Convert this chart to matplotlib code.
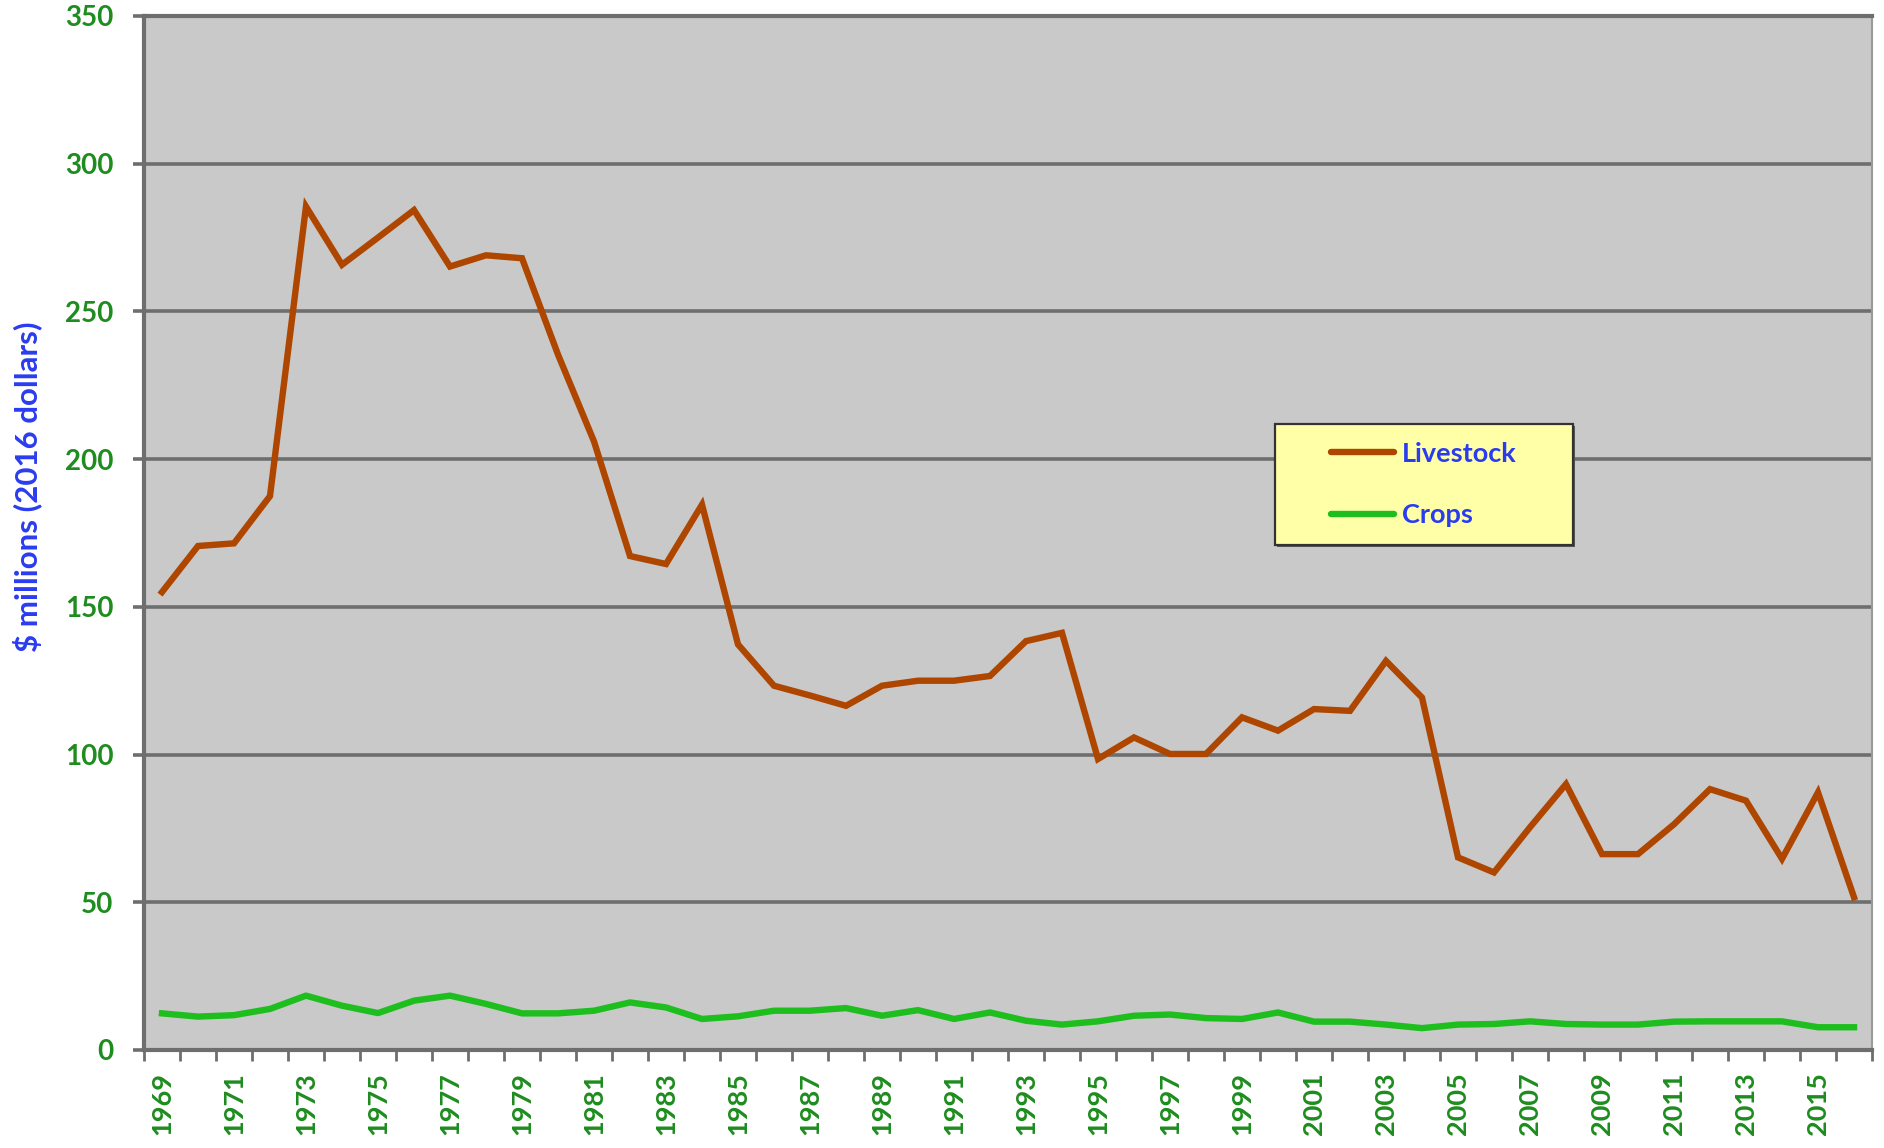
import matplotlib
matplotlib.use("Agg")
import matplotlib.pyplot as plt
from matplotlib.patches import Rectangle
import numpy as np

years = list(range(1969, 2017))
livestock = [155, 170.6, 171.5, 187.5, 285.5, 265.8, 275, 284.3, 265.2, 269, 268,
             235.4, 206, 167.2, 164.5, 184.6, 137.3, 123.3, 120, 116.5, 123.3, 125,
             125, 126.6, 138.4, 141.2, 98.5, 105.8, 100.2, 100.2, 112.6, 108.1, 115.4,
             114.8, 131.7, 119.3, 65.2, 60.1, 75.4, 90, 66.3, 66.3, 76.4, 88.3, 84.4,
             64.7, 87.2, 51.7]
crops = [12.4, 11.3, 11.8, 13.9, 18.4, 15, 12.5, 16.7, 18.4, 15.6, 12.4, 12.4, 13.3,
         16.1, 14.4, 10.5, 11.4, 13.3, 13.3, 14.2, 11.6, 13.5, 10.5, 12.7, 9.9, 8.6,
         9.7, 11.6, 12, 10.8, 10.5, 12.7, 9.6, 9.6, 8.6, 7.4, 8.6, 8.8, 9.7, 8.8, 8.6,
         8.6, 9.6, 9.7, 9.7, 9.7, 7.7, 7.7]
series_names = ["Livestock", "Crops"]
y_ticks = [0, 50, 100, 150, 200, 250, 300, 350]
y_label = "$ millions (2016 dollars)"

FONT = ["Lato", "DejaVu Sans"]
plt.rcParams['font.family'] = FONT
GREEN_TXT = "#1E8C1E"
BLUE_TXT = "#2A3CF0"
GRID = "#6E6E6E"

fig = plt.figure(figsize=(18.84, 11.48), dpi=100)
ax = fig.add_axes([144/1884, 1 - 1050/1148, (1872-144)/1884, (1050-16)/1148])
ax.set_facecolor("#C9C9C9")

x = np.arange(len(years))
l1, = ax.plot(x, livestock, color="#AE4600", lw=4.6, solid_joinstyle="miter", zorder=3)
l2, = ax.plot(x, crops, color="#1EBE1E", lw=4.6, solid_joinstyle="round", zorder=3)

ax.set_xlim(-0.5, len(years) - 0.5)
ax.set_ylim(0, 350)
ax.set_yticks(y_ticks)
ax.set_yticklabels([str(v) for v in y_ticks])
ax.yaxis.grid(True, color=GRID, lw=2.6, zorder=1)
ax.set_axisbelow(True)

# x: major ticks at category boundaries, labels on minor ticks
ax.set_xticks(np.arange(-0.5, len(years), 1.0))
ax.set_xticklabels([])
lab_pos = x[::2]
ax.set_xticks(lab_pos, minor=True)
ax.set_xticklabels([str(years[i]) for i in lab_pos], minor=True, rotation=90)
ax.tick_params(axis="x", which="major", direction="out", length=8, width=2, color=GRID)
ax.tick_params(axis="x", which="minor", length=0, pad=16, labelsize=19.5, labelcolor=GREEN_TXT)
ax.tick_params(axis="y", direction="out", length=8, width=2.6, color=GRID, pad=14,
               labelsize=20, labelcolor=GREEN_TXT)
for lab in ax.get_xticklabels(minor=True) + ax.get_yticklabels():
    lab.set_fontweight("bold")

for side in ["left", "bottom", "top"]:
    ax.spines[side].set_color(GRID)
    ax.spines[side].set_linewidth(3)
ax.spines["right"].set_color("#9A9A9A")
ax.spines["right"].set_linewidth(1.5)

fig.text(27/1884, 1 - 487/1148, y_label, rotation=90, ha="center", va="center",
         fontsize=22.5, fontweight="bold", color=BLUE_TXT)

# legend box
bx0, by0 = 1275/1884, 1 - 545/1148
bw, bh = 298/1884, 121/1148
fig.patches.append(Rectangle((bx0 + 2/1884, by0 - 2/1148), bw, bh, transform=fig.transFigure,
                             facecolor="#555555", edgecolor="none", zorder=4))
fig.patches.append(Rectangle((bx0, by0), bw, bh, transform=fig.transFigure,
                             facecolor="#FFFFA8", edgecolor="#333333", lw=1.6, zorder=5))
leg = fig.legend([l1, l2], series_names, loc="center",
                 bbox_to_anchor=(bx0 + bw/2, by0 + bh/2), frameon=False,
                 prop={"family": FONT, "weight": "bold", "size": 19.5},
                 handlelength=2.3, handletextpad=0.3, labelspacing=1.4)
leg.set_zorder(6)
for t in leg.get_texts():
    t.set_color(BLUE_TXT)
for h in leg.legend_handles:
    h.set_solid_capstyle("round")

fig.savefig("out.png", dpi=100, facecolor="white")
